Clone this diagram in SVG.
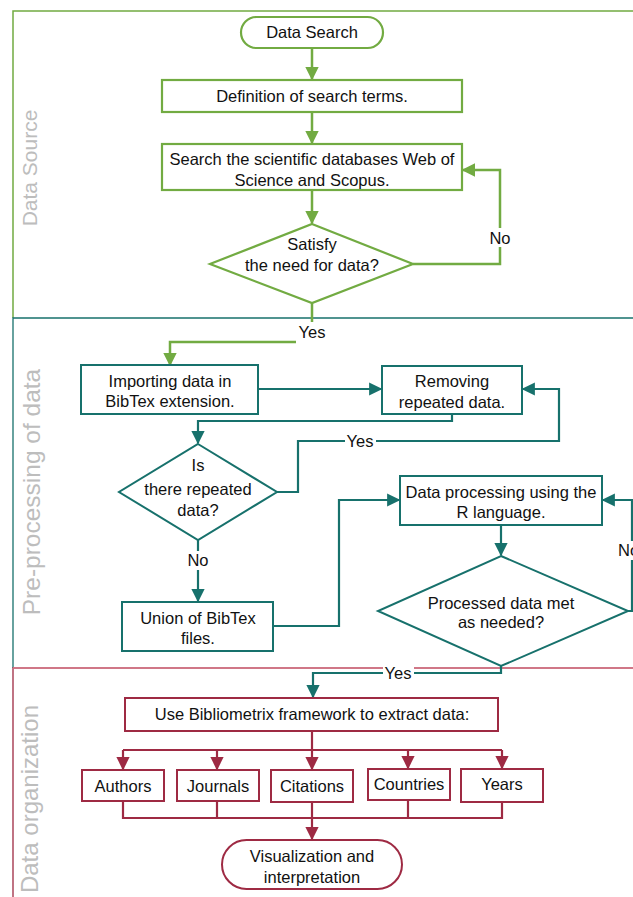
<svg xmlns="http://www.w3.org/2000/svg" width="633" height="897" viewBox="0 0 633 897">
<defs>
<marker id="ag" viewBox="0 0 10 10" refX="9" refY="5" markerWidth="5.5" markerHeight="5.5" orient="auto" markerUnits="strokeWidth"><path d="M0,0 L10,5 L0,10 z" fill="#72ab42"/></marker>
<marker id="at" viewBox="0 0 10 10" refX="9" refY="5" markerWidth="6" markerHeight="6" orient="auto" markerUnits="strokeWidth"><path d="M0,0 L10,5 L0,10 z" fill="#17716c"/></marker>
<marker id="ar" viewBox="0 0 10 10" refX="9" refY="5" markerWidth="6" markerHeight="6" orient="auto" markerUnits="strokeWidth"><path d="M0,0 L10,5 L0,10 z" fill="#9e2a43"/></marker>
</defs>
<style>
text{font-family:"Liberation Sans",Arial,sans-serif;font-size:16.5px;fill:#111;text-anchor:middle;dominant-baseline:central}
.lane{font-size:21px;fill:#bdbdbd}
.g{fill:#fff;stroke:#72ab42;stroke-width:2.2}
.t{fill:#fff;stroke:#17716c;stroke-width:2}
.r{fill:#fff;stroke:#9e2a43;stroke-width:2}
.cg{fill:none;stroke:#72ab42;stroke-width:2.5}
.ct{fill:none;stroke:#17716c;stroke-width:2.2}
.cr{fill:none;stroke:#9e2a43;stroke-width:2.2}
.bg{fill:#fff;stroke:none}
</style>
<rect width="633" height="897" fill="#fff"/>
<g id="lanes">
<path d="M633,11 H13 V318" fill="none" stroke="#72ab42" stroke-width="1.5"/>
<path d="M633,318 H13 V668" fill="none" stroke="#17716c" stroke-width="1.3"/>
<path d="M633,668 H13 V897" fill="none" stroke="#9e2a43" stroke-width="1.3"/>
<line x1="13" y1="668" x2="633" y2="668" stroke="#d9808f" stroke-width="1.3"/>
<text class="lane" transform="translate(29,168) rotate(-90)">Data Source</text>
<text class="lane" transform="translate(31,492) rotate(-90)" style="font-size:24.5px">Pre-processing of data</text>
<text class="lane" transform="translate(29,799) rotate(-90)" style="font-size:24px">Data organization</text>
</g>
<g id="connectors">
<path class="cg" d="M312,48 V79" marker-end="url(#ag)"/>
<path class="cg" d="M312,112 V143" marker-end="url(#ag)"/>
<path class="cg" d="M312,190 V223" marker-end="url(#ag)"/>
<path class="cg" d="M413,264 H500 V170 H463" marker-end="url(#ag)"/>
<rect class="bg" x="487" y="228" width="27" height="19"/>
<text x="500" y="238">No</text>
<path class="cg" d="M312,303 V342 H170 V365" marker-end="url(#ag)"/>
<rect class="bg" x="296" y="322" width="32" height="23"/>
<text x="312" y="332">Yes</text>
<path class="ct" d="M258,389 H381" marker-end="url(#at)"/>
<path class="ct" d="M452,414 V421 H198 V443" marker-end="url(#at)"/>
<path class="ct" d="M277,492 H298 V441 H559 V389 H523" marker-end="url(#at)"/>
<rect class="bg" x="345" y="433" width="31" height="17"/>
<text x="360" y="441">Yes</text>
<path class="ct" d="M198,540 V601" marker-end="url(#at)"/>
<rect class="bg" x="185" y="551" width="26" height="19"/>
<text x="198" y="560">No</text>
<path class="ct" d="M628,611 H632 V500 H603" marker-end="url(#at)"/>
<rect class="bg" x="617" y="541" width="16" height="19"/>
<text x="618" y="550" style="text-anchor:start">No</text>
<path class="ct" d="M273,626 H339 V500 H399" marker-end="url(#at)"/>
<path class="ct" d="M501,525 V555" marker-end="url(#at)"/>
<path class="ct" d="M501,666 V673 H313 V697" marker-end="url(#at)"/>
<rect class="bg" x="383" y="666" width="31" height="14"/>
<text x="398" y="673">Yes</text>
<path class="cr" d="M312,731 V750"/>
<path class="cr" d="M123,750 H502"/>
<path class="cr" d="M123,750 V769" marker-end="url(#ar)"/>
<path class="cr" d="M217,750 V769" marker-end="url(#ar)"/>
<path class="cr" d="M312,750 V769" marker-end="url(#ar)"/>
<path class="cr" d="M408,750 V768" marker-end="url(#ar)"/>
<path class="cr" d="M502,750 V768" marker-end="url(#ar)"/>
<path class="cr" d="M123,801 V818 H502 V802"/>
<path class="cr" d="M217,801 V818"/>
<path class="cr" d="M408,800 V818"/>
<path class="cr" d="M312,802 V839" marker-end="url(#ar)"/>
</g>
<g id="data-search"><rect class="g" x="241" y="17" width="142" height="31" rx="15.5"/><text x="312" y="32">Data Search</text></g>
<g id="definition"><rect class="g" x="162" y="80" width="300" height="32"/><text x="312" y="96">Definition of search terms.</text></g>
<g id="search"><rect class="g" x="162" y="144" width="300" height="46"/><text x="312" y="159">Search the scientific databases Web of</text><text x="312" y="180">Science and Scopus.</text></g>
<g id="satisfy"><polygon class="g" points="312,224 413,264 312,303 210,264"/><text x="312" y="244">Satisfy</text><text x="312" y="265">the need for data?</text></g>
<g id="importing"><rect class="t" x="81" y="365" width="177" height="49"/><text x="170" y="381">Importing data in</text><text x="170" y="401">BibTex extension.</text></g>
<g id="removing"><rect class="t" x="382" y="366" width="140" height="48"/><text x="452" y="381">Removing</text><text x="452" y="402">repeated data.</text></g>
<g id="repeated"><polygon class="t" points="198,444 277,492 198,540 119,492"/><text x="198" y="465">Is</text><text x="198" y="489">there repeated</text><text x="198" y="510">data?</text></g>
<g id="union"><rect class="t" x="122" y="602" width="151" height="49"/><text x="198" y="618">Union of BibTex</text><text x="198" y="638">files.</text></g>
<g id="processing"><rect class="t" x="400" y="476" width="202" height="49"/><text x="501" y="492">Data processing using the</text><text x="501" y="512">R language.</text></g>
<g id="met"><polygon class="t" points="501,556 628,611 501,666 378,611"/><text x="501" y="603">Processed data met</text><text x="501" y="622">as needed?</text></g>
<g id="bibliometrix"><rect class="r" x="125" y="698" width="373" height="33"/><text x="312" y="714">Use Bibliometrix framework to extract data:</text></g>
<g id="authors"><rect class="r" x="82" y="770" width="82" height="31"/><text x="123" y="786">Authors</text></g>
<g id="journals"><rect class="r" x="177" y="770" width="82" height="31"/><text x="218" y="786">Journals</text></g>
<g id="citations"><rect class="r" x="271" y="770" width="82" height="32"/><text x="312" y="786">Citations</text></g>
<g id="countries"><rect class="r" x="368" y="769" width="82" height="31"/><text x="409" y="784">Countries</text></g>
<g id="years"><rect class="r" x="461" y="769" width="82" height="33"/><text x="502" y="784">Years</text></g>
<g id="visualization"><rect class="r" x="222" y="840" width="180" height="49" rx="24.5"/><text x="312" y="856">Visualization and</text><text x="312" y="877">interpretation</text></g>
</svg>
